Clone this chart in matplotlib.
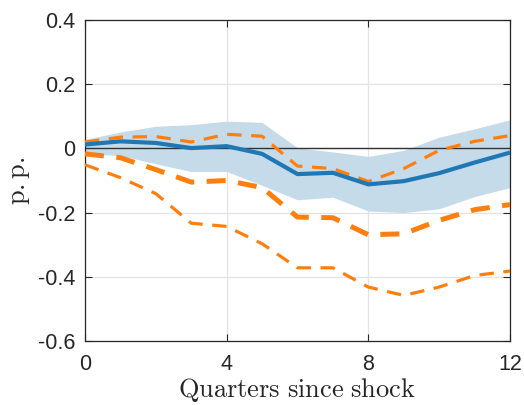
import matplotlib
matplotlib.use("Agg")
import matplotlib.pyplot as plt
import numpy as np

quarters = list(range(13))
irf_median = [0.012, 0.022, 0.017, 0.001, 0.007, -0.017, -0.080, -0.076, -0.112, -0.102, -0.077, -0.044, -0.013]
band_upper = [0.028, 0.051, 0.069, 0.074, 0.085, 0.081, 0.002, -0.011, -0.025, -0.006, 0.035, 0.061, 0.089]
band_lower = [-0.017, -0.022, -0.048, -0.072, -0.072, -0.115, -0.160, -0.152, -0.195, -0.200, -0.188, -0.150, -0.122]
alt_upper = [0.020, 0.035, 0.037, 0.020, 0.044, 0.038, -0.055, -0.063, -0.103, -0.063, -0.006, 0.022, 0.040]
alt_median = [-0.017, -0.029, -0.066, -0.105, -0.100, -0.122, -0.214, -0.216, -0.269, -0.266, -0.224, -0.191, -0.175]
alt_lower = [-0.051, -0.091, -0.141, -0.233, -0.243, -0.297, -0.372, -0.372, -0.432, -0.458, -0.432, -0.396, -0.382]

xticks = [0, 4, 8, 12]
yticks = [-0.6, -0.4, -0.2, 0, 0.2, 0.4]
yticklabels = ["-0.6", "-0.4", "-0.2", "0", "0.2", "0.4"]

plt.rcParams['mathtext.fontset'] = 'cm'
fig = plt.figure(figsize=(5.24, 4.05), dpi=100)
ax = fig.add_axes([0.1622, 0.158, 0.9733 - 0.1622, 0.9506 - 0.158])

blue = '#1f77b4'
orange = '#ff7f0e'

ax.fill_between(quarters, band_lower, band_upper, color='#c5dbea', linewidth=0, zorder=1)
ax.axhline(0, color='#333333', linewidth=1.0, zorder=2)
ax.plot(quarters, irf_median, color=blue, linewidth=3.0, zorder=4, solid_capstyle='butt')
ax.plot(quarters, alt_upper, color=orange, linewidth=2.3, dashes=(4.5, 3.0), zorder=3)
ax.plot(quarters, alt_median, color=orange, linewidth=3.6, dashes=(3.8, 2.5), zorder=3)
ax.plot(quarters, alt_lower, color=orange, linewidth=2.3, dashes=(4.5, 3.0), zorder=3)

ax.set_xlim(0, 12)
ax.set_ylim(-0.6, 0.4)
ax.set_xticks(xticks)
ax.set_xticklabels([str(t) for t in xticks])
ax.set_yticks(yticks)
ax.set_yticklabels(yticklabels)
ax.grid(True, color='#e3e3e3', linewidth=0.9, zorder=0)
ax.set_axisbelow(True)
ax.tick_params(direction='in', length=5, width=0.8, labelsize=15.5, colors='#262626',
               top=True, right=True)
ax.tick_params(axis='x', pad=9)
ax.tick_params(axis='y', pad=7)
for lbl in ax.get_xticklabels() + ax.get_yticklabels():
    lbl.set_family(['Liberation Sans', 'DejaVu Sans'])
for s in ax.spines.values():
    s.set_color('#262626')
    s.set_linewidth(0.9)

ax.set_xlabel(r'$\mathrm{Quarters\ since\ shock}$', fontsize=19, color='#262626', labelpad=1)
ax.set_ylabel(r'$\mathrm{p{.}p{.}}$', fontsize=19, color='#262626', labelpad=4)

fig.savefig('out.png', dpi=100)
